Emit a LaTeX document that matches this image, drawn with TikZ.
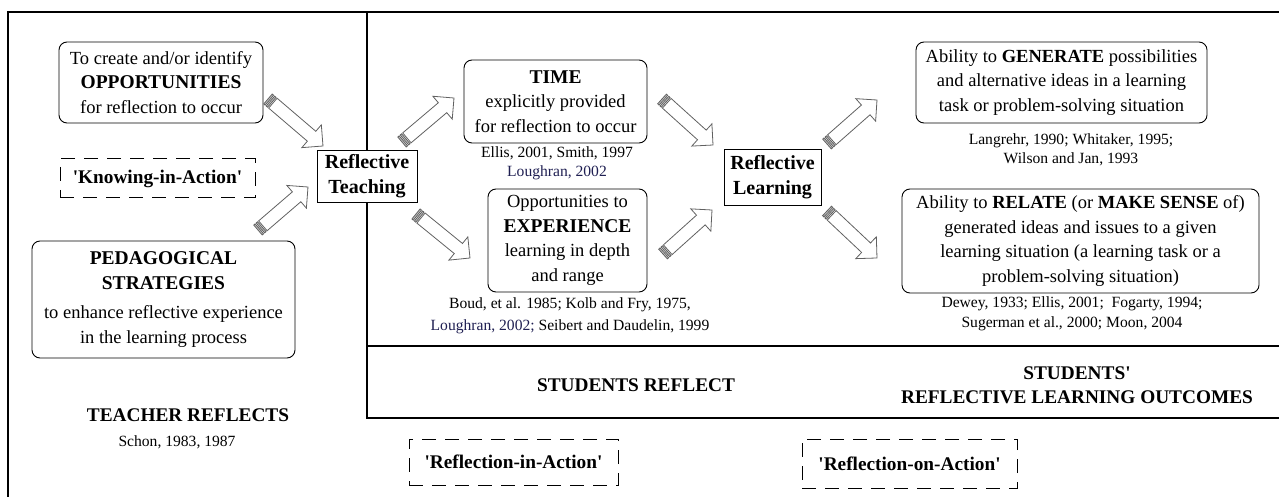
\documentclass[tikz,border=0pt]{standalone}
\usepackage{fontspec}
\setmainfont{Liberation Serif}[Ligatures=TeXOff]
\usetikzlibrary{calc}
\definecolor{citeblue}{rgb}{0.12,0.12,0.32}
\definecolor{arrgray}{rgb}{0.38,0.38,0.38}
\newcommand\normtxt{\fontsize{18.5}{24.5}\selectfont}
\newcommand\boldtxt{\fontsize{19.3}{24}\selectfont\bfseries}
\newcommand\citetxt{\fontsize{15.6}{19.5}\selectfont}
\newcommand\rtxt{\fontsize{20}{25}\selectfont\bfseries}
\newcommand\bigb[1]{{\fontsize{19.5}{24.5}\selectfont\bfseries #1}}
\newcommand\blockarr[2]{%
  \path let \p1=($(#2)-(#1)$) in \pgfextra{\pgfmathsetmacro\arrang{atan2(\y1,\x1)}\pgfmathsetmacro\arrlen{veclen(\x1,\y1)}\xdef\ArrAng{\arrang}\xdef\ArrLen{\arrlen}};
  \begin{scope}[shift={(#1)}, rotate=\ArrAng]
    \draw[arrowline, fill=gray!45] (0,-6.5) rectangle (1.8,6.5);
    \draw[arrowline, fill=gray!45] (3.2,-6.5) rectangle (5,6.5);
    \draw[arrowline] (6.4,-6.5) -- (\ArrLen-15,-6.5) -- (\ArrLen-15,-15) -- (\ArrLen,0) -- (\ArrLen-15,15) -- (\ArrLen-15,6.5) -- (6.4,6.5) -- cycle;
  \end{scope}}
\tikzset{
  rbox/.style={draw, rounded corners=8pt, line width=0.9pt, fill=white, align=center, inner sep=0pt, font=\normtxt},
  dbox/.style={draw, dash pattern=on 14pt off 9pt, line width=1pt, align=center, inner sep=0pt, font=\boldtxt},
  sbox/.style={draw, line width=0.9pt, fill=white, align=center, inner sep=0pt, font=\rtxt},
  cite/.style={align=center, inner sep=0pt, font=\citetxt},
  head/.style={align=center, inner sep=0pt, font=\boldtxt},
  frame/.style={line width=2pt},
  divider/.style={line width=1.2pt},
  arrowline/.style={draw=arrgray, line width=0.8pt, fill=white, line join=miter}
}
\begin{document}
\begin{tikzpicture}[x=1pt, y=-1pt]
\useasboundingbox (0,0) rectangle (1279,497);
% frame and dividers
\draw[frame] (8,12) -- (1279,12);
\draw[frame] (8,11) -- (8,497);
\draw[divider] (367,12) -- (367,418) -- (1279,418);
\draw[divider] (367,346) -- (1279,346);

% left column
\node[rbox, minimum width=204pt, minimum height=81pt] (opp) at (161,82.5)
  {To create and/or identify\\ \bigb{OPPORTUNITIES}\\ for reflection to occur};
\node[dbox, minimum width=195pt, minimum height=39pt] (kia) at (157.5,178.5) {'Knowing-in-Action'};
\node[rbox, minimum width=263pt, minimum height=117pt] (ped) at (163.5,299.5)
  {\bigb{PEDAGOGICAL}\\ \bigb{STRATEGIES}\\[5pt] to enhance reflective experience\\ in the learning process};
\node[head] (tr) at (188,415) {TEACHER REFLECTS};
\node[cite] (schon) at (177,442) {Schon, 1983, 1987};

% central nodes
\node[sbox, minimum width=100pt, minimum height=52pt] (rt) at (367,176) {Reflective\\Teaching};
\node[sbox, minimum width=97pt, minimum height=56pt] (rl) at (772.5,177) {Reflective\\Learning};

% middle column
\node[rbox, minimum width=183pt, minimum height=83pt] (time) at (555.5,101.5)
  {\bigb{TIME}\\ explicitly provided\\ for reflection to occur};
\node[cite] (timecite) at (557,163.5) {Ellis, 2001, Smith, 1997\\ \textcolor{citeblue}{Loughran, 2002}};
\node[rbox, minimum width=159pt, minimum height=103pt] (exp) at (567.5,240.5)
  {Opportunities to\\ \bigb{EXPERIENCE}\\ learning in depth\\ and range};
\node[cite] (expcite) at (570,316) {Boud, et al. 1985; Kolb and Fry, 1975,\\[2pt] \textcolor{citeblue}{Loughran, 2002;} Seibert and Daudelin, 1999};
\node[head] (sr) at (636,385) {STUDENTS REFLECT};
\node[dbox, minimum width=209pt, minimum height=46pt] (ria) at (513.5,462) {'Reflection-in-Action'};

% right column
\node[rbox, minimum width=291pt, minimum height=81pt] (gen) at (1061.5,82.5)
  {Ability to \textbf{GENERATE} possibilities\\ and alternative ideas in a learning\\ task or problem-solving situation};
\node[cite] (gencite) at (1071,150) {Langrehr, 1990; Whitaker, 1995;\\ Wilson and Jan, 1993};
\node[rbox, minimum width=357pt, minimum height=104pt] (rel) at (1080.5,241)
  {Ability to \textbf{RELATE} (or \textbf{MAKE SENSE} of)\\ generated ideas and issues to a given\\ learning situation (a learning task or a\\ problem-solving situation)};
\node[cite] (relcite) at (1072,314) {Dewey, 1933; Ellis, 2001;\ \ Fogarty, 1994;\\ Sugerman et al., 2000; Moon, 2004};
\node[head] (slo) at (1077,385) {STUDENTS'\\ REFLECTIVE LEARNING OUTCOMES};
\node[dbox, minimum width=215pt, minimum height=49pt] (roa) at (909.5,463.5) {'Reflection-on-Action'};

% block arrows
\coordinate (a1s) at (268,99);  \coordinate (a1e) at (323,146);
\coordinate (a2s) at (258,230); \coordinate (a2e) at (308,187);
\coordinate (a3s) at (402,142); \coordinate (a3e) at (454,98);
\coordinate (a4s) at (416,214); \coordinate (a4e) at (470,258);
\coordinate (a5s) at (662,99);  \coordinate (a5e) at (713,145);
\coordinate (a6s) at (663,254); \coordinate (a6e) at (712,210);
\coordinate (a7s) at (827,144); \coordinate (a7e) at (877,100);
\coordinate (a8s) at (827,211); \coordinate (a8e) at (877,258);
\blockarr{a1s}{a1e}
\blockarr{a2s}{a2e}
\blockarr{a3s}{a3e}
\blockarr{a4s}{a4e}
\blockarr{a5s}{a5e}
\blockarr{a6s}{a6e}
\blockarr{a7s}{a7e}
\blockarr{a8s}{a8e}
\end{tikzpicture}
\end{document}
